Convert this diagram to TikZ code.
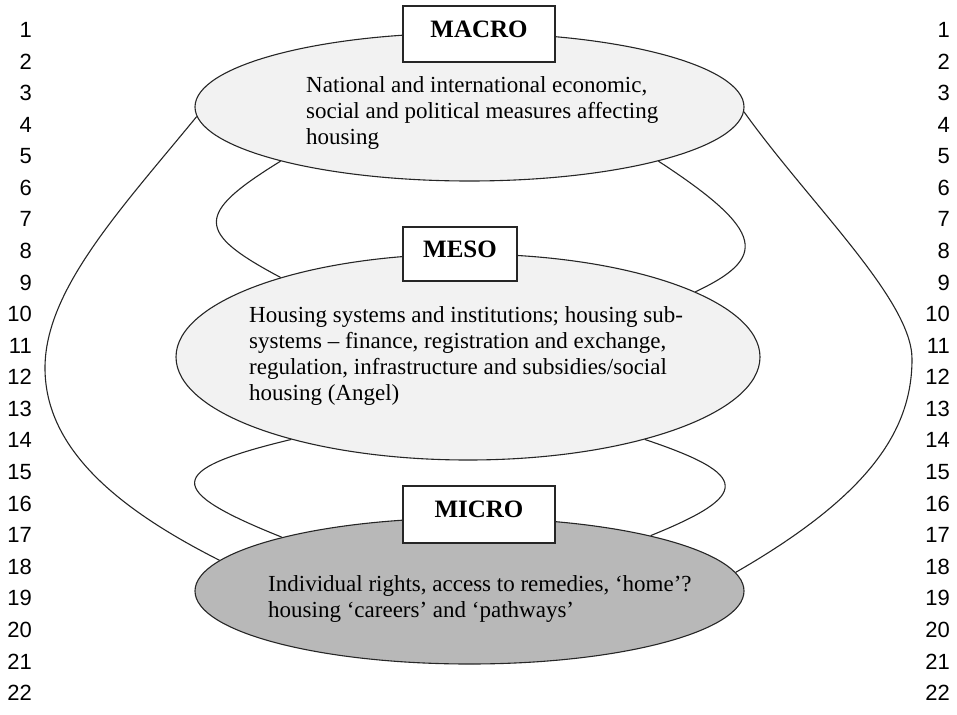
\documentclass[tikz,border=0pt]{standalone}
\usepackage{fontspec}
\setmainfont{Liberation Serif}
\newfontfamily\rowfont{Liberation Sans}
\usetikzlibrary{shapes.geometric}

\begin{document}
\begin{tikzpicture}
[x=1pt,y=-1pt,
  leveldecorate/.style={shape=ellipse,draw=black!85,line width=1.1pt,inner sep=0pt},
  boxdecorate/.style={shape=rectangle,draw=black!85,line width=1.1pt,fill=white,inner sep=0pt,
    text depth=10pt,font=\fontsize{25}{30}\selectfont\bfseries},
  textdecorate/.style={align=left,inner sep=0pt,anchor=west,font=\fontsize{23}{26}\selectfont},
  linedecorate/.style={-,draw=black!85,line width=1.1pt},
  rowdecorate/.style={inner sep=0pt,anchor=east,font=\rowfont\fontsize{22}{22}\selectfont}]
\useasboundingbox (0,0) rectangle (957,714);
%% line numbers
\foreach \row in {1,...,22}
{
  \node (left\row) [rowdecorate] at (32,{30+31.57*(\row-1)}) {\row};
  \node (right\row) [rowdecorate] at (950,{30+31.57*(\row-1)}) {\row};
}
%% levels
\node (macro) [leveldecorate,fill=black!5,minimum width=549pt,minimum height=148pt] at (469.5,107) {};
\node (meso) [leveldecorate,fill=black!5,minimum width=584pt,minimum height=206pt] at (468,357) {};
\node (micro) [leveldecorate,fill=black!28,minimum width=549pt,minimum height=146pt] at (469.5,591) {};
\node (macrotext) [textdecorate] at (306,113) {National and international economic,\\
  social and political measures affecting\\housing};
\node (mesotext) [textdecorate] at (249,356) {Housing systems and institutions; housing sub-\\
  systems -- finance, registration and exchange,\\
  regulation, infrastructure and subsidies/social\\housing (Angel)};
\node (microtext) [textdecorate] at (268,599) {Individual rights, access to remedies, `home'?\\
  housing `careers' and `pathways'};
%% links between levels
\foreach \startnode/\ax/\ay/\bx/\by/\endnode in {macro.196/195/214/195/232/meso.157,
  macro.344/767/232/767/258/meso.16.5, meso.205.5/164/470/164/490/micro.164,
  meso.335/751/475/751/495/micro.17.5}
{
  \draw[linedecorate] (\startnode) .. controls (\ax,\ay) and (\bx,\by) .. (\endnode);
}
\coordinate (leftbend) at (45,368);
\coordinate (rightbend) at (912,359);
\draw[linedecorate] (macro.182) .. controls (120,210) and (45,290) .. (leftbend)
  .. controls (45,450) and (120,510) .. (micro.173);
\draw[linedecorate] (macro.359) .. controls (810,204) and (912,300) .. (rightbend)
  .. controls (912,430) and (870,495) .. (micro.4);
%% titles
\node (macrobox) [boxdecorate,minimum width=152pt,minimum height=56pt] at (479,34) {MACRO};
\node (mesobox) [boxdecorate,minimum width=114pt,minimum height=54pt] at (460,254) {MESO};
\node (microbox) [boxdecorate,minimum width=152pt,minimum height=57pt] at (479,514.5) {MICRO};
\end{tikzpicture}
\end{document}
